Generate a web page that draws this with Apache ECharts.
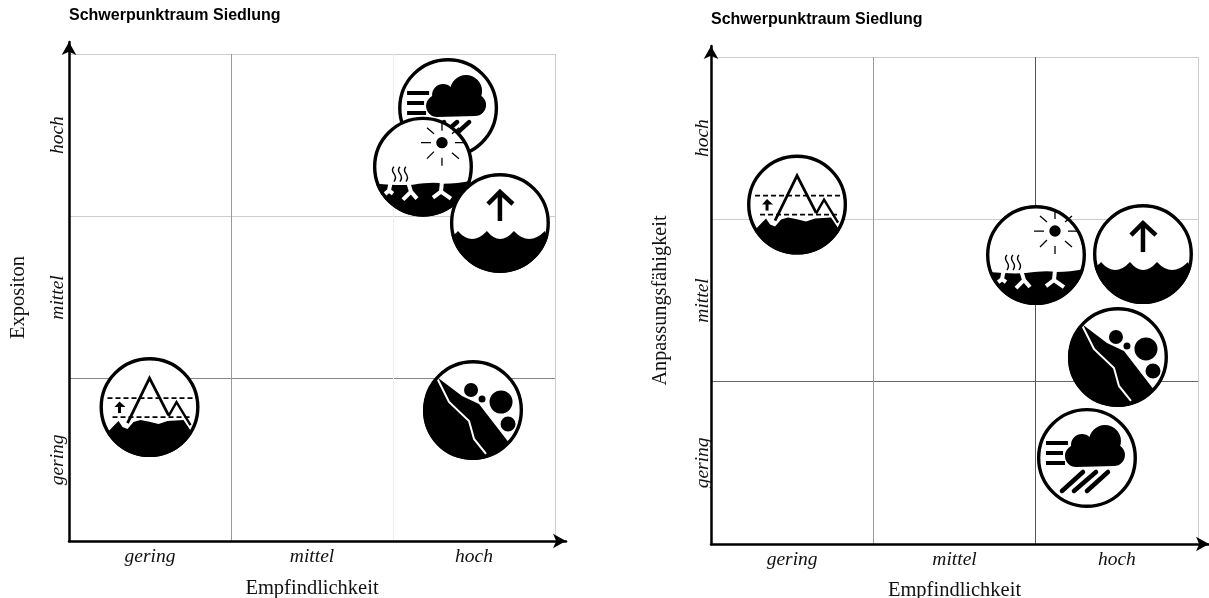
<!DOCTYPE html>
<html>
<head>
<meta charset="utf-8">
<style>html,body{margin:0;padding:0;background:#fff}#c{width:1209px;height:598px}</style>
<script src="https://cdn.jsdelivr.net/npm/echarts@6/dist/echarts.min.js"></script>
</head>
<body>
<div id="c"></div>
<script>
var titleText = 'Schwerpunktraum Siedlung';
var levels = ['gering', 'mittel', 'hoch'];
var xName = 'Empfindlichkeit';
var leftYName = 'Expositon';
var rightYName = 'Anpassungsfähigkeit';

// order = drawing order (later icons lie on top)
var leftIcons = ['storm', 'heat', 'sea', 'mountain', 'slide'];
var leftX = [2.340, 2.185, 2.660, 0.497, 2.494];
var leftY = [2.667, 2.306, 1.959, 0.825, 0.807];

var rightIcons = ['mountain', 'heat', 'sea', 'storm', 'slide'];
var rightX = [0.530, 2.002, 2.661, 2.316, 2.507];
var rightY = [2.091, 1.780, 1.786, 0.530, 1.152];

function dot(cx, cy, r) {
  return 'M' + (cx - r) + ',' + cy + ' a' + r + ',' + r + ' 0 1 0 ' + (2 * r) + ',0 a' + r + ',' + r + ' 0 1 0 ' + (-2 * r) + ',0Z ';
}
function fillP(d, color) { return { type: 'path', shape: { pathData: d }, style: { fill: color || '#000', stroke: null } }; }
function lineP(d, w, color, extra) {
  var st = { fill: null, stroke: color || '#000', lineWidth: w, lineCap: 'butt', lineJoin: 'miter' };
  if (extra) { for (var k in extra) st[k] = extra[k]; }
  return { type: 'path', shape: { pathData: d }, style: st };
}

var iconParts = {
  sea: function () {
    return [
      fillP('M-48.5,12 Q-45,12 -42,8 Q-28,24 -13,8 Q0,24 14,8 Q29,24 45,8 Q46,12 48.5,12 A50,50 0 0 1 -48.5,12 Z'),
      lineP('M0,-2 L0,-30', 4.5),
      lineP('M-12,-19 L0,-31 L13,-19', 4.5)
    ];
  },
  heat: function () {
    return [
      fillP(dot(19, -24, 5.7)),
      lineP('M-2,-24 L8,-24 M32,-24 L41,-24 M19,-9 L19,-1 M19,-44 L19,-36 M4,-39 L11,-33 M4,-8 L11,-15 M29,-14 L36,-8 M29,-33 L36,-39', 1.3),
      lineP('M-29,0 q-3,3 0,7 q3,4 0,8 M-23,0 q-3,3 0,7 q3,4 0,8 M-17,0 q-3,3 0,7 q3,4 0,8', 1.4),
      fillP('M-47,17 Q-25,19 -10,18 Q10,15 20,17 Q35,17 48,14 A50,50 0 0 1 -47,17 Z'),
      lineP('M-32,14 L-34,24 L-40,29 M-34,24 L-30,27', 4, '#fff'),
      lineP('M-15,15 L-12,25 L-20,33 M-12,25 L-6,32', 4, '#fff'),
      lineP('M19,15 L18,25 L10,31 M18,25 L28,32', 4, '#fff')
    ];
  },
  storm: function () {
    return [
      fillP(dot(18, -17, 16) + dot(-5, -13, 11) + dot(-11, -2, 11) + dot(27, -3, 11) + 'M-11,-13 L-11,9 L27,8 L27,-13 Z'),
      lineP('M-41,-15 L-19,-15 M-41,-5 L-24,-5 M-41,5 L-22,5', 4),
      lineP('M-25,33 L-4,14 M-13,33 L9,14 M0,33 L21,14', 4.5, '#000', { lineCap: 'round' })
    ];
  },
  mountain: function () {
    return [
      fillP('M-42.7,26 L-34,17 L-31,14 L-27,20 L-22,22 L-16,15 L-9,13 L1,15 L9,17 L18,14 L34,13 L42.7,26 A50,50 0 0 1 -42.7,26 Z'),
      lineP('M-22,16 L0,-29 L19,8', 2.8),
      lineP('M19,9 L27,-5 L41,18', 2.4),
      lineP('M-42,-9 L48,-9 M-37,10 L41,10', 1.8, '#000', { lineDash: [5, 3] }),
      lineP('M-30,6 L-30,-2', 3),
      fillP('M-35,0 L-30,-5.5 L-24,0 Z')
    ];
  },
  slide: function () {
    return [
      fillP('M-36.1,-33.1 L-11,-14 L6,-6 L36.1,33.1 A49,49 0 1 1 -36.1,-33.1 Z'),
      lineP('M-36,-32 L-24,-8 L-4,11 L1,29 L13,44', 2, '#fff'),
      fillP(dot(-2, -20, 7) + dot(9, -11, 3.5) + dot(28, -8, 11.5) + dot(35, 14, 7.5))
    ];
  }
};

function iconRender(names) {
  return function (params, api) {
    var p = api.coord([api.value(0), api.value(1)]);
    var name = names[params.dataIndex];
    var kids = [{ type: 'circle', shape: { cx: 0, cy: 0, r: 48.3 }, style: { fill: '#fff', stroke: null } }]
      .concat(iconParts[name]())
      .concat([{ type: 'circle', shape: { cx: 0, cy: 0, r: 48.3 }, style: { fill: null, stroke: '#000', lineWidth: 3.4 } }]);
    return { type: 'group', x: p[0], y: p[1], children: kids };
  };
}
function zip(a, b) { return a.map(function (v, i) { return [v, b[i]]; }); }

var serif = 'Liberation Serif';
function catAxis(gridIndex, colors, isY, name, nameGap, margin, nameSize) {
  return {
    type: 'category', gridIndex: gridIndex, data: levels, boundaryGap: true,
    axisLine: { show: false }, axisTick: { show: false },
    splitLine: { show: true, interval: 0, lineStyle: { color: colors, width: 1 } },
    axisLabel: { interval: 0, rotate: isY ? 90 : 0, margin: margin, color: '#111', fontFamily: serif, fontStyle: 'italic', fontSize: 19.5 },
    name: name, nameLocation: 'middle', nameGap: nameGap, nameRotate: isY ? 90 : 0,
    nameTextStyle: { color: '#111', fontFamily: serif, fontSize: nameSize }
  };
}
function valAxis(gridIndex) { return { type: 'value', gridIndex: gridIndex, min: 0, max: 3, interval: 1, show: false }; }
function arrowAxis(gridIndex) {
  return {
    type: 'value', gridIndex: gridIndex, min: 0, max: 1,
    axisLine: { show: true, onZero: false, symbol: ['none', 'arrow'], symbolSize: [11, 13], lineStyle: { color: '#000', width: 2.5 } },
    axisTick: { show: false }, axisLabel: { show: false }, splitLine: { show: false }
  };
}

var titleStyle = { fontFamily: 'Liberation Sans', fontWeight: 'bold', fontSize: 16, color: '#000' };
var option = {
  animation: false,
  backgroundColor: '#fff',
  title: [
    { text: titleText, left: 64, top: 3, textStyle: titleStyle },
    { text: titleText, left: 706, top: 7, textStyle: titleStyle }
  ],
  grid: [
    { left: 69, top: 54, width: 486, height: 487, outerBoundsMode: 'none' },
    { left: 711, top: 57, width: 487, height: 487, outerBoundsMode: 'none' },
    { left: 69, top: 42, width: 497, height: 499, outerBoundsMode: 'none' },
    { left: 711, top: 46, width: 498, height: 498, outerBoundsMode: 'none' }
  ],
  xAxis: [
    catAxis(0, ['#999', '#999', '#eee', '#ccc'], false, xName, 37, 6, 20.5),
    valAxis(0),
    catAxis(1, ['#999', '#999', '#555', '#ccc'], false, xName, 36, 6, 20.5),
    valAxis(1),
    arrowAxis(2),
    arrowAxis(3)
  ],
  yAxis: [
    catAxis(0, ['#888', '#888', '#ccc', '#ccc'], true, leftYName, 40, 1, 20.5),
    valAxis(0),
    catAxis(1, ['#666', '#666', '#ccc', '#ccc'], true, rightYName, 40, -2, 20.3),
    valAxis(1),
    arrowAxis(2),
    arrowAxis(3)
  ],
  series: [
    { type: 'custom', xAxisIndex: 1, yAxisIndex: 1, data: zip(leftX, leftY), renderItem: iconRender(leftIcons), clip: false, silent: true, z: 5 },
    { type: 'custom', xAxisIndex: 3, yAxisIndex: 3, data: zip(rightX, rightY), renderItem: iconRender(rightIcons), clip: false, silent: true, z: 5 }
  ]
};
echarts.init(document.getElementById('c'), null, { renderer: 'canvas' }).setOption(option);
</script>
</body>
</html>
